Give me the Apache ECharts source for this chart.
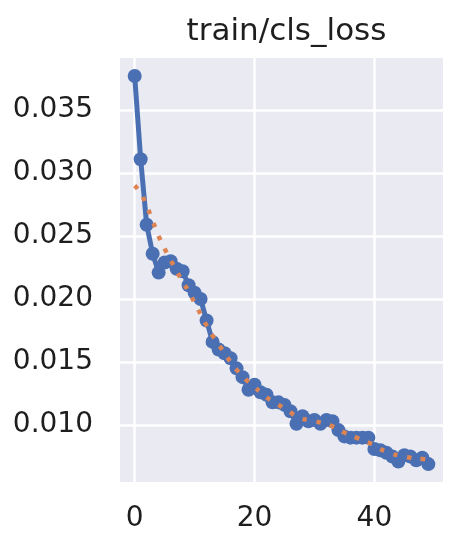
<!DOCTYPE html>
<html>
<head>
<meta charset="utf-8">
<script src="https://cdn.jsdelivr.net/npm/echarts@6/dist/echarts.min.js"></script>
<style>html,body{margin:0;padding:0;background:#fff;}#c{width:459px;height:550px;}</style>
</head>
<body>
<div id="c"></div>
<script>
var title = 'train/cls_loss';
var epochs = [0,1,2,3,4,5,6,7,8,9,10,11,12,13,14,15,16,17,18,19,20,21,22,23,24,25,26,27,28,29,30,31,32,33,34,35,36,37,38,39,40,41,42,43,44,45,46,47,48,49];
var results = [0.0377,0.0311,0.0259,0.0236,0.0221,0.0229,0.0230,0.0224,0.0222,0.0211,0.0205,0.0200,0.0183,0.0166,0.0160,0.0157,0.0153,0.0145,0.0138,0.0128,0.0132,0.0126,0.0124,0.0118,0.0118,0.0116,0.0111,0.0101,0.0107,0.0103,0.0104,0.0101,0.0104,0.0103,0.0096,0.0091,0.0090,0.0090,0.0090,0.0090,0.0081,0.0080,0.0078,0.0075,0.0071,0.0076,0.0075,0.0072,0.0074,0.0069];
var smooth = [0.0290,0.0284,0.0274,0.0262,0.0250,0.0240,0.0231,0.0222,0.0214,0.0206,0.0197,0.0188,0.0179,0.0171,0.0164,0.0157,0.0150,0.0144,0.0139,0.0134,0.0130,0.0126,0.0122,0.0119,0.0116,0.0113,0.0110,0.0107,0.0105,0.0104,0.0103,0.0102,0.0101,0.0099,0.0097,0.0094,0.0092,0.0090,0.0088,0.0086,0.0084,0.0081,0.0079,0.0077,0.0076,0.0075,0.0074,0.0073,0.0073,0.0072];
var xTicks = [0, 20, 40];
var yTicks = [0.010, 0.015, 0.020, 0.025, 0.030, 0.035];
var xRange = [-2.45, 51.45];
var yRange = [0.00548, 0.03913];

var font = 'DejaVu Sans';
var chart = echarts.init(document.getElementById('c'), null, {renderer: 'canvas'});
chart.setOption({
  animation: false,
  backgroundColor: '#ffffff',
  title: {
    text: title, left: 281.5, textAlign: 'center', top: 11,
    textStyle: {fontFamily: font, fontSize: 31, fontWeight: 'normal', color: '#1e1e1e'}
  },
  grid: {left: 120, right: 16, top: 58, bottom: 68, show: true, backgroundColor: '#eaeaf2', borderWidth: 0},
  xAxis: {
    type: 'value', min: xRange[0], max: xRange[1],
    axisLine: {show: false},
    axisTick: {show: false, customValues: xTicks},
    axisLabel: {customValues: xTicks, fontFamily: font, fontSize: 28, color: '#1e1e1e', margin: 23,
      formatter: function (v) { return String(Math.round(v)); }},
    splitLine: {show: true, lineStyle: {color: '#ffffff', width: 2.5}}
  },
  yAxis: {
    type: 'value', min: yRange[0], max: yRange[1],
    axisLine: {show: false},
    axisTick: {show: false, customValues: yTicks},
    axisLabel: {customValues: yTicks, fontFamily: font, fontSize: 28, color: '#1e1e1e', margin: 27,
      formatter: function (v) { return v.toFixed(3); }},
    splitLine: {show: true, lineStyle: {color: '#ffffff', width: 2.5}}
  },
  series: [
    {
      type: 'line', name: 'results',
      data: epochs.map(function (e, i) { return [e, results[i]]; }),
      symbol: 'circle', symbolSize: 14,
      itemStyle: {color: '#4a70b3'},
      lineStyle: {color: '#4a70b3', width: 5},
      z: 2
    },
    {
      type: 'line', name: 'smooth',
      data: epochs.map(function (e, i) { return [e, smooth[i]]; }),
      symbol: 'none', smooth: true,
      lineStyle: {color: '#dd8452', width: 4.5, type: [4.5, 9.5], cap: 'butt'},
      z: 3
    }
  ]
});
</script>
</body>
</html>
